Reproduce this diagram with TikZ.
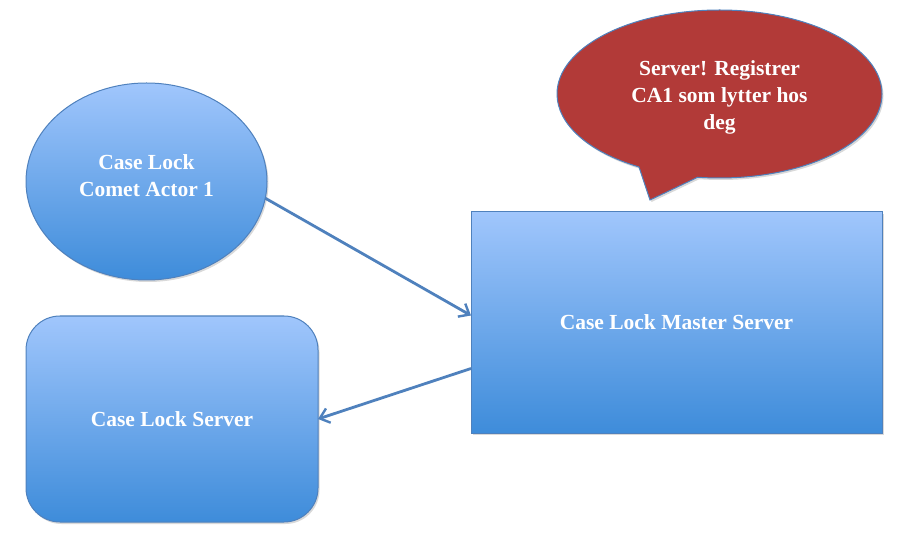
\documentclass[tikz,border=0pt]{standalone}
\usepackage{fontspec}
\setmainfont{Liberation Serif}
\usetikzlibrary{shapes.geometric,shapes.callouts,arrows.meta,shadows}
\definecolor{bltop}{RGB}{160,198,252}
\definecolor{blbot}{RGB}{62,140,218}
\definecolor{bledge}{RGB}{79,129,189}
\definecolor{bubred}{RGB}{178,58,56}
\begin{document}
\begin{tikzpicture}[x=1pt,y=-1pt,
  bluebox/.style={draw=bledge, line width=1pt, top color=bltop, bottom color=blbot,
    inner sep=0pt, outer sep=0pt, text=white, align=center,
    font=\fontsize{21.5}{27}\selectfont\bfseries,
    drop shadow={opacity=0.3, shadow xshift=1.5pt, shadow yshift=-2pt}},
  lbl/.style={text=white, align=center, inner sep=0pt, font=\fontsize{21.5}{27}\selectfont\bfseries},
  conn/.style={draw=bledge, line width=2.8pt, -{Straight Barb[length=9pt,width=15pt,line width=2.4pt]}}
]
\useasboundingbox (0,0) rectangle (904,534);
\node[bluebox, ellipse, minimum width=241pt, minimum height=197pt] (actor) at (146.5,181.5) {};
\node[lbl] (actortext) at (146.5,176) {Case Lock\\Comet Actor 1};
\node[bluebox, rectangle, minimum width=411pt, minimum height=221pt] (master) at (676.5,322.5) {Case Lock Master Server};
\node[bluebox, rectangle, rounded corners=34pt, minimum width=292pt, minimum height=206pt] (server) at (172,419) {Case Lock Server};
\node[ellipse callout, draw=bledge, line width=1pt, fill=bubred,
  inner sep=0pt, outer sep=0pt, minimum width=325pt, minimum height=168pt,
  callout absolute pointer={(650,200)}, callout pointer arc=22,
  drop shadow={opacity=0.3, shadow xshift=1.5pt, shadow yshift=-2pt}] (bubble) at (719.5,94) {};
\node[lbl] (bubbletext) at (719.5,97) {Server! Registrer\\CA1 som lytter hos\\deg};
\draw[conn] (actor.-8) -- ([yshift=7pt]master.west);
\draw[conn] ([yshift=-46pt]master.west) -- (server.east);
\end{tikzpicture}
\end{document}
